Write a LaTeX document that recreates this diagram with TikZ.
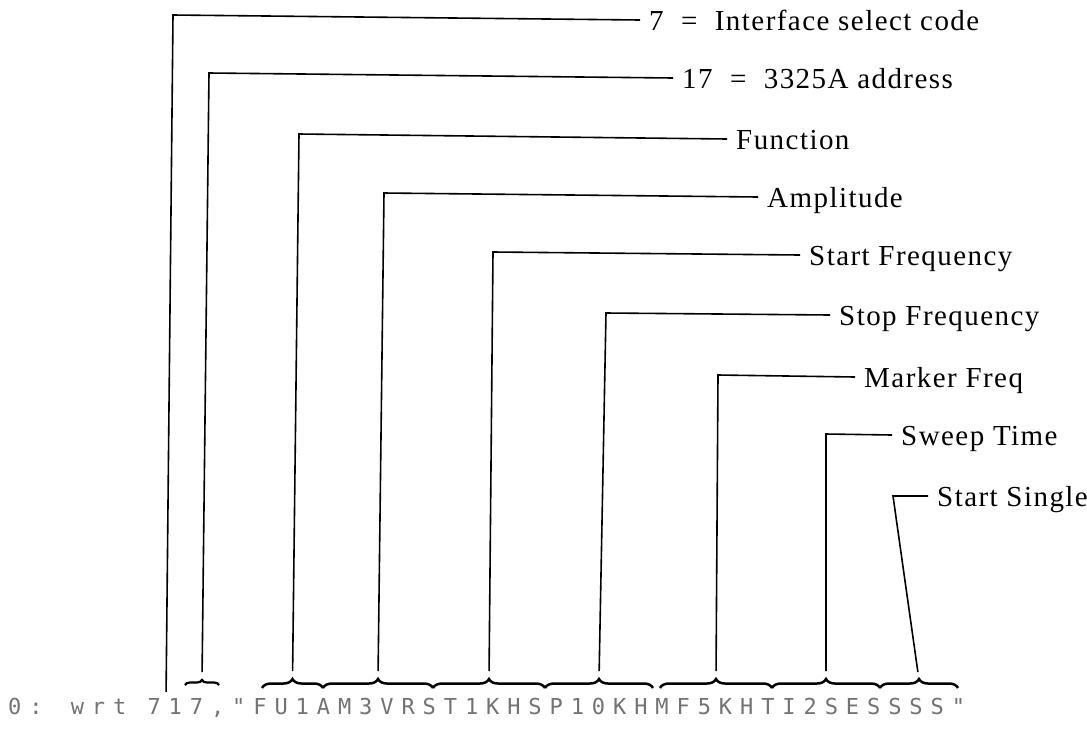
\documentclass[tikz,border=0pt]{standalone}
\usepackage{fontspec}
\usetikzlibrary{decorations.pathreplacing}
\newfontfamily\lblfont[LetterSpace=5]{Liberation Serif}
\newfontfamily\dotfont[LetterSpace=36]{DejaVu Sans Mono}
\begin{document}
\begin{tikzpicture}[x=1pt,y=-1pt,
  conn/.style={line width=1.6pt, line join=miter, shorten <=8pt},
  brc/.style={decorate, decoration={brace, amplitude=9pt}, line width=2.5pt},
  smallbrc/.style={decorate, decoration={brace, amplitude=5pt}, line width=2.2pt},
  lbl/.style={anchor=west, inner xsep=9pt, inner ysep=0pt, text height=20.3pt, text depth=0pt,
    font={\lblfont\fontsize{29}{31}\selectfont}},
  cmdtext/.style={anchor=base west, inner sep=0pt, text=black!55,
    font={\dotfont\fontsize{22}{22}\selectfont}}]
\useasboundingbox[fill=white] (0,0) rectangle (1087,732);

% command line
\node[cmdtext] (cmd) at (8,714) {0: wrt 717,"FU1AM3VRST1KHSP10KHMF5KHTI2SESSSS"};

% braces
\draw[smallbrc] (185,685) -- (219,685);
\draw[brc] (262,688) -- (323,688);
\draw[brc] (323,688) -- (433,688);
\draw[brc] (433,688) -- (545,688);
\draw[brc] (545,688) -- (653,688);
\draw[brc] (660,688) -- (772,688);
\draw[brc] (772,688) -- (880,688);
\draw[brc] (880,688) -- (958,688);

% brace tips
\coordinate (t1) at (166,700);
\coordinate (b1) at (202,680);
\coordinate (b2) at (292.5,679);
\coordinate (b3) at (378,679);
\coordinate (b4) at (489,679);
\coordinate (b5) at (599,679);
\coordinate (b6) at (716,679);
\coordinate (b7) at (826,679);
\coordinate (b8) at (919,680);

% corners
\coordinate (c1) at (173,15);
\coordinate (c2) at (209,73);
\coordinate (c3) at (299,134);
\coordinate (c4) at (384,193);
\coordinate (c5) at (493,252);
\coordinate (c6) at (606,313);
\coordinate (c7) at (718,375);
\coordinate (c8) at (826,434);
\coordinate (c9) at (893,496);

% labels
\node[lbl] (l1) at (640,20) {7\hspace{0.6em}=\hspace{0.6em}Interface select code};
\node[lbl] (l2) at (673,78) {17\hspace{0.6em}=\hspace{0.6em}3325A address};
\node[lbl] (l3) at (727,139) {Function};
\node[lbl] (l4) at (758,197) {Amplitude};
\node[lbl] (l5) at (800,255) {Start Frequency};
\node[lbl] (l6) at (830,315) {Stop Frequency};
\node[lbl] (l7) at (855,377) {Marker Freq};
\node[lbl] (l8) at (892,435) {Sweep Time};
\node[lbl] (l9) at (928,496) {Start Single};

% connectors
\draw[conn] (t1) -- (c1) -- (l1.west);
\draw[conn] (b1) -- (c2) -- (l2.west);
\draw[conn] (b2) -- (c3) -- (l3.west);
\draw[conn] (b3) -- (c4) -- (l4.west);
\draw[conn] (b4) -- (c5) -- (l5.west);
\draw[conn] (b5) -- (c6) -- (l6.west);
\draw[conn] (b6) -- (c7) -- (l7.west);
\draw[conn] (b7) -- (c8) -- (l8.west);
\draw[conn] (b8) -- (c9) -- (l9.west);
\end{tikzpicture}
\end{document}
